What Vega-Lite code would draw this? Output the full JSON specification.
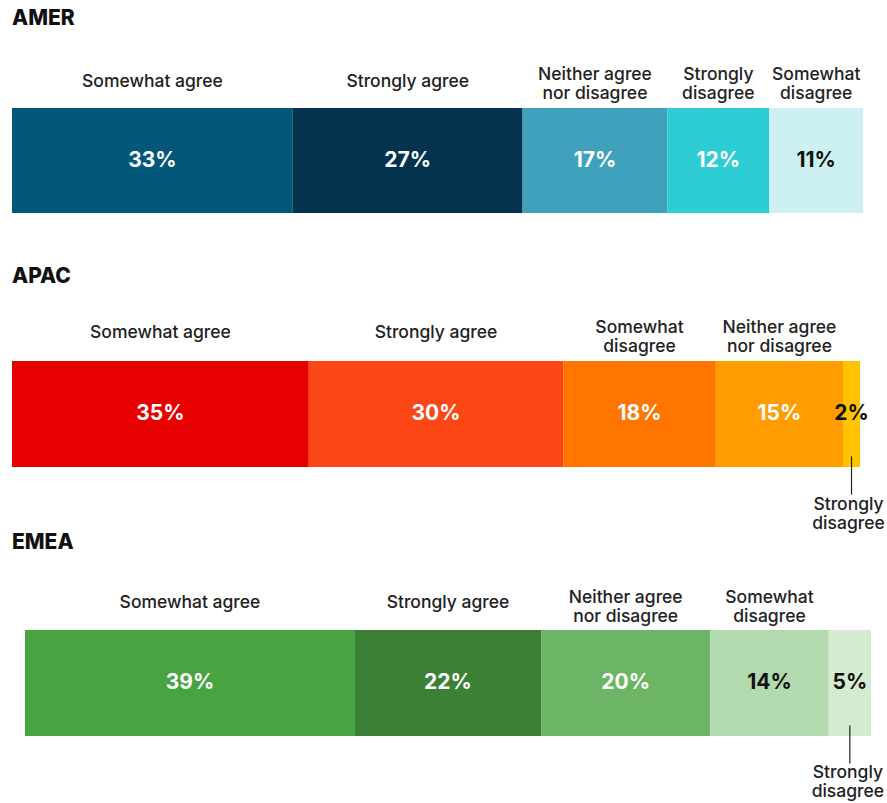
{
  "$schema": "https://vega.github.io/schema/vega-lite/v6.json",
  "background": "white",
  "padding": {"left": 12, "top": 8, "right": 0, "bottom": 4},
  "bounds": "flush",
  "spacing": 148,
  "config": {
    "view": {"stroke": null},
    "font": "Inter",
    "title": {"anchor": "start", "frame": "group", "baseline": "alphabetic", "fontSize": 21, "fontWeight": 800, "font": "Inter", "color": "#111111"}
  },
  "datasets": {
    "survey": [
      {"region": "AMER", "cat": "Somewhat agree", "label": "Somewhat agree", "pct": 0.33},
      {"region": "AMER", "cat": "Strongly agree", "label": "Strongly agree", "pct": 0.27},
      {"region": "AMER", "cat": "Neither agree nor disagree", "label": "Neither agree\nnor disagree", "pct": 0.17},
      {"region": "AMER", "cat": "Strongly disagree", "label": "Strongly\ndisagree", "pct": 0.12},
      {"region": "AMER", "cat": "Somewhat disagree", "label": "Somewhat\ndisagree", "pct": 0.11},
      {"region": "APAC", "cat": "Somewhat agree", "label": "Somewhat agree", "pct": 0.35},
      {"region": "APAC", "cat": "Strongly agree", "label": "Strongly agree", "pct": 0.30},
      {"region": "APAC", "cat": "Somewhat disagree", "label": "Somewhat\ndisagree", "pct": 0.18},
      {"region": "APAC", "cat": "Neither agree nor disagree", "label": "Neither agree\nnor disagree", "pct": 0.15},
      {"region": "APAC", "cat": "Strongly disagree", "label": "Strongly\ndisagree", "pct": 0.02},
      {"region": "EMEA", "cat": "Somewhat agree", "label": "Somewhat agree", "pct": 0.39},
      {"region": "EMEA", "cat": "Strongly agree", "label": "Strongly agree", "pct": 0.22},
      {"region": "EMEA", "cat": "Neither agree nor disagree", "label": "Neither agree\nnor disagree", "pct": 0.20},
      {"region": "EMEA", "cat": "Somewhat disagree", "label": "Somewhat\ndisagree", "pct": 0.14},
      {"region": "EMEA", "cat": "Strongly disagree", "label": "Strongly\ndisagree", "pct": 0.05}
    ]
  },
  "data": {"name": "survey"},
  "resolve": {"scale": {"x": "independent", "y": "independent", "color": "independent"}},
  "vconcat": [
    {
      "width": 851,
      "height": 105,
      "title": {"text": "AMER", "offset": 37},
      "transform": [
        {"filter": "datum.region === 'AMER'"},
        {"stack": "pct", "groupby": ["region"], "as": ["x0", "x1"]},
        {"fold": ["x0", "x1"], "as": ["edge", "xv"]},
        {"aggregate": [
          {"op": "min", "field": "xv", "as": "lo"},
          {"op": "max", "field": "xv", "as": "hi"},
          {"op": "mean", "field": "xv", "as": "mid"}
        ], "groupby": ["cat", "label", "pct"]}
      ],
      "layer": [
        {
          "mark": {"type": "bar"},
          "encoding": {
            "x": {"field": "lo", "type": "quantitative", "scale": {"domain": [0, 1], "nice": false, "zero": false}, "axis": null},
            "x2": {"field": "hi"},
            "y": {"datum": 0, "type": "quantitative", "scale": {"domain": [0, 1], "nice": false, "zero": false}, "axis": null},
            "y2": {"datum": 1},
            "color": {"field": "cat", "type": "nominal", "legend": null,
              "scale": {"domain": ["Somewhat agree", "Strongly agree", "Neither agree nor disagree", "Strongly disagree", "Somewhat disagree"],
                        "range": ["#03587A", "#04334F", "#40A1BD", "#2ECCD3", "#CDF1F2"]}}
          }
        },
        {
          "mark": {"type": "text", "fontSize": 21, "fontWeight": 700, "baseline": "middle", "dy": 0},
          "encoding": {
            "x": {"field": "mid", "type": "quantitative"},
            "y": {"datum": 0.5, "type": "quantitative"},
            "text": {"field": "pct", "type": "quantitative", "format": ".0%"},
            "color": {"condition": {"test": "datum.cat === 'Somewhat disagree'", "value": "#111111"}, "value": "#ffffff"}
          }
        },
        {
          "transform": [{"filter": "datum.cat === 'Somewhat agree' || datum.cat === 'Strongly agree'"}],
          "mark": {"type": "text", "fontSize": 17.5, "fontWeight": 500, "baseline": "middle", "dy": -26, "color": "#222222"},
          "encoding": {
            "x": {"field": "mid", "type": "quantitative"},
            "y": {"datum": 1, "type": "quantitative"},
            "text": {"field": "label"}
          }
        },
        {
          "transform": [{"filter": "datum.cat !== 'Somewhat agree' && datum.cat !== 'Strongly agree'"}],
          "mark": {"type": "text", "fontSize": 17.5, "fontWeight": 500, "baseline": "middle", "lineBreak": "\n", "lineHeight": 19, "dy": -33, "color": "#222222"},
          "encoding": {
            "x": {"field": "mid", "type": "quantitative"},
            "y": {"datum": 1, "type": "quantitative"},
            "text": {"field": "label"}
          }
        }
      ]
    },
    {
      "width": 848,
      "height": 121,
      "title": {"text": "APAC", "offset": 32},
      "transform": [
        {"filter": "datum.region === 'APAC'"},
        {"stack": "pct", "groupby": ["region"], "as": ["x0", "x1"]},
        {"fold": ["x0", "x1"], "as": ["edge", "xv"]},
        {"aggregate": [
          {"op": "min", "field": "xv", "as": "lo"},
          {"op": "max", "field": "xv", "as": "hi"},
          {"op": "mean", "field": "xv", "as": "mid"}
        ], "groupby": ["cat", "label", "pct"]}
      ],
      "layer": [
        {
          "mark": {"type": "bar"},
          "encoding": {
            "x": {"field": "lo", "type": "quantitative", "scale": {"domain": [0, 1], "nice": false, "zero": false}, "axis": null},
            "x2": {"field": "hi"},
            "y": {"datum": 0, "type": "quantitative", "scale": {"domain": [-0.1415, 1], "nice": false, "zero": false}, "axis": null},
            "y2": {"datum": 1},
            "color": {"field": "cat", "type": "nominal", "legend": null,
              "scale": {"domain": ["Somewhat agree", "Strongly agree", "Somewhat disagree", "Neither agree nor disagree", "Strongly disagree"],
                        "range": ["#E60000", "#FC4616", "#FE7600", "#FF9C00", "#FFC300"]}}
          }
        },
        {
          "mark": {"type": "text", "fontSize": 21, "fontWeight": 700, "baseline": "middle", "dy": 0},
          "encoding": {
            "x": {"field": "mid", "type": "quantitative"},
            "y": {"datum": 0.5, "type": "quantitative"},
            "text": {"field": "pct", "type": "quantitative", "format": ".0%"},
            "color": {"condition": {"test": "datum.cat === 'Strongly disagree'", "value": "#111111"}, "value": "#ffffff"}
          }
        },
        {
          "transform": [{"filter": "datum.cat === 'Somewhat agree' || datum.cat === 'Strongly agree'"}],
          "mark": {"type": "text", "fontSize": 17.5, "fontWeight": 500, "baseline": "middle", "dy": -28, "color": "#222222"},
          "encoding": {
            "x": {"field": "mid", "type": "quantitative"},
            "y": {"datum": 1, "type": "quantitative"},
            "text": {"field": "label"}
          }
        },
        {
          "transform": [{"filter": "datum.cat === 'Somewhat disagree' || datum.cat === 'Neither agree nor disagree'"}],
          "mark": {"type": "text", "fontSize": 17.5, "fontWeight": 500, "baseline": "middle", "lineBreak": "\n", "lineHeight": 19, "dy": -33, "color": "#222222"},
          "encoding": {
            "x": {"field": "mid", "type": "quantitative"},
            "y": {"datum": 1, "type": "quantitative"},
            "text": {"field": "label"}
          }
        },
        {
          "transform": [{"filter": "datum.cat === 'Strongly disagree'"}],
          "mark": {"type": "rule", "color": "#222222", "strokeWidth": 1.2},
          "encoding": {
            "x": {"field": "mid", "type": "quantitative"},
            "y": {"datum": 0.1, "type": "quantitative"},
            "y2": {"datum": -0.26}
          }
        },
        {
          "transform": [{"filter": "datum.cat === 'Strongly disagree'"}],
          "mark": {"type": "text", "fontSize": 17.5, "fontWeight": 500, "baseline": "middle", "lineBreak": "\n", "lineHeight": 19, "dy": 38, "dx": -3, "color": "#222222"},
          "encoding": {
            "x": {"field": "mid", "type": "quantitative"},
            "y": {"datum": 0, "type": "quantitative"},
            "text": {"field": "label"}
          }
        }
      ]
    },
    {
      "width": 859,
      "height": 106,
      "title": {"text": "EMEA", "offset": 36},
      "transform": [
        {"filter": "datum.region === 'EMEA'"},
        {"stack": "pct", "groupby": ["region"], "as": ["x0", "x1"]},
        {"fold": ["x0", "x1"], "as": ["edge", "xv"]},
        {"aggregate": [
          {"op": "min", "field": "xv", "as": "lo"},
          {"op": "max", "field": "xv", "as": "hi"},
          {"op": "mean", "field": "xv", "as": "mid"}
        ], "groupby": ["cat", "label", "pct"]}
      ],
      "layer": [
        {
          "mark": {"type": "bar"},
          "encoding": {
            "x": {"field": "lo", "type": "quantitative", "scale": {"domain": [-0.015366, 1], "nice": false, "zero": false}, "axis": null},
            "x2": {"field": "hi"},
            "y": {"datum": 0, "type": "quantitative", "scale": {"domain": [0, 1], "nice": false, "zero": false}, "axis": null},
            "y2": {"datum": 1},
            "color": {"field": "cat", "type": "nominal", "legend": null,
              "scale": {"domain": ["Somewhat agree", "Strongly agree", "Neither agree nor disagree", "Somewhat disagree", "Strongly disagree"],
                        "range": ["#48A441", "#3B8034", "#6CB565", "#B3D9AE", "#D4EBD1"]}}
          }
        },
        {
          "mark": {"type": "text", "fontSize": 21, "fontWeight": 700, "baseline": "middle", "dy": 0},
          "encoding": {
            "x": {"field": "mid", "type": "quantitative"},
            "y": {"datum": 0.5, "type": "quantitative"},
            "text": {"field": "pct", "type": "quantitative", "format": ".0%"},
            "color": {"condition": {"test": "datum.cat === 'Somewhat disagree' || datum.cat === 'Strongly disagree'", "value": "#111111"}, "value": "#ffffff"}
          }
        },
        {
          "transform": [{"filter": "datum.cat === 'Somewhat agree' || datum.cat === 'Strongly agree'"}],
          "mark": {"type": "text", "fontSize": 17.5, "fontWeight": 500, "baseline": "middle", "dy": -27, "color": "#222222"},
          "encoding": {
            "x": {"field": "mid", "type": "quantitative"},
            "y": {"datum": 1, "type": "quantitative"},
            "text": {"field": "label"}
          }
        },
        {
          "transform": [{"filter": "datum.cat === 'Somewhat disagree' || datum.cat === 'Neither agree nor disagree'"}],
          "mark": {"type": "text", "fontSize": 17.5, "fontWeight": 500, "baseline": "middle", "lineBreak": "\n", "lineHeight": 19, "dy": -32, "color": "#222222"},
          "encoding": {
            "x": {"field": "mid", "type": "quantitative"},
            "y": {"datum": 1, "type": "quantitative"},
            "text": {"field": "label"}
          }
        },
        {
          "transform": [{"filter": "datum.cat === 'Strongly disagree'"}],
          "mark": {"type": "rule", "color": "#222222", "strokeWidth": 1.2},
          "encoding": {
            "x": {"field": "mid", "type": "quantitative"},
            "y": {"datum": 0.1, "type": "quantitative"},
            "y2": {"datum": -0.26}
          }
        },
        {
          "transform": [{"filter": "datum.cat === 'Strongly disagree'"}],
          "mark": {"type": "text", "fontSize": 17.5, "fontWeight": 500, "baseline": "middle", "lineBreak": "\n", "lineHeight": 19, "dy": 37, "dx": -2, "color": "#222222"},
          "encoding": {
            "x": {"field": "mid", "type": "quantitative"},
            "y": {"datum": 0, "type": "quantitative"},
            "text": {"field": "label"}
          }
        }
      ]
    }
  ]
}
